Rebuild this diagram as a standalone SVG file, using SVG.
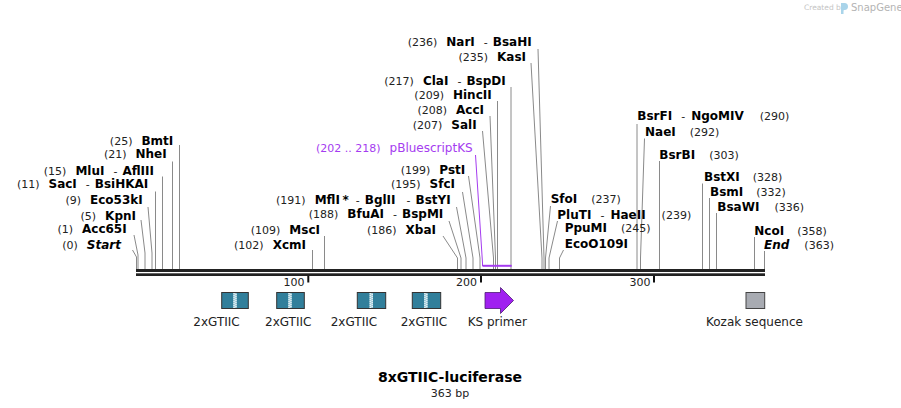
<svg xmlns="http://www.w3.org/2000/svg" width="901" height="408" viewBox="0 0 901 408">
<style>
text{font-family:"DejaVu Sans",Verdana,sans-serif}
.n{font-size:11px;font-weight:normal;font-style:normal;fill:#222}
.b{font-size:12px;font-weight:bold;fill:#000}
.it{font-size:12px;font-weight:bold;font-style:italic;fill:#000}
.e{text-anchor:end}
.c{stroke:#8a8a8a;stroke-width:1;fill:none}
.p{stroke:#a53cf0;stroke-width:1;fill:none}
.pt{fill:#a53cf0;font-size:12px}
.f{font-size:12px;fill:#222}
.box{fill:#317f9b;stroke:#333;stroke-width:1}
.dot{stroke:#fff;stroke-width:1;stroke-dasharray:1 1}
.tick{stroke:#111;stroke-width:2}
</style>
<rect width="901" height="408" fill="#fff"/>

<g id="watermark">
<text x="804" y="10" style="font-size:7.5px;fill:#c4c4c4">Created by</text>
<path d="M841,3 h3.5 a3,3 0 0 1 0,7 h-1 v4 h-2.5 z" fill="#a9d4ea"/>
<text x="851" y="11" style="font-size:10px;fill:#b4b4b4">SnapGene</text>
</g>

<g id="backbone">
<rect x="136" y="269" width="629" height="3" fill="#222"/>
<rect x="136" y="273.3" width="629" height="2.7" fill="#222"/>
<line class="tick" x1="308.3" y1="276" x2="308.3" y2="282.5"/>
<line class="tick" x1="481" y1="276" x2="481" y2="282.5"/>
<line class="tick" x1="654" y1="276" x2="654" y2="282.5"/>
<text class="n e" x="304.5" y="285.5">100</text>
<text class="n e" x="477" y="285.5">200</text>
<text class="n e" x="650.5" y="285.5">300</text>
</g>

<g id="connectors">
<polyline class="c" points="132.5,250 136.5,257 136.5,269"/>
<polyline class="c" points="134,235 138,255 138,269"/>
<polyline class="c" points="141,220 145,253 145,269"/>
<polyline class="c" points="148,207 152,253 152,269"/>
<polyline class="c" points="155.5,191.5 155.5,269"/>
<polyline class="c" points="162.5,176.5 162.5,269"/>
<polyline class="c" points="172.5,161.5 172.5,269"/>
<polyline class="c" points="179.5,145 179.5,269"/>
<polyline class="c" points="312.5,250 312.5,269"/>
<polyline class="c" points="324.5,236 324.5,269"/>
<polyline class="c" points="443,236 457.5,258 457.5,269"/>
<polyline class="c" points="449,221 461,258 461,269"/>
<polyline class="c" points="456.5,207 466,258 466,269"/>
<polyline class="c" points="462.5,192 473,258 473,269"/>
<polyline class="c" points="468.5,176 480,258 480,269"/>
<polyline class="c" points="482.5,131 493.5,258 493.5,269"/>
<polyline class="c" points="490,116 495.5,258 495.5,269"/>
<polyline class="c" points="497.5,101 497.5,269"/>
<polyline class="c" points="511,87 511,269"/>
<polyline class="c" points="531,63 542,258 542,269"/>
<polyline class="c" points="538,49 544,258 544,269"/>
<polyline class="c" points="550.5,206 545.5,258 545.5,269"/>
<polyline class="c" points="557.5,221 549,258 549,269"/>
<polyline class="c" points="563.5,250 559.5,258 559.5,269"/>
<polyline class="c" points="637,124 637,269"/>
<polyline class="c" points="644.5,138.5 640.5,258 640.5,269"/>
<polyline class="c" points="659.5,161 659.5,269"/>
<polyline class="c" points="702.5,183.5 702.5,269"/>
<polyline class="c" points="709.5,198 709.5,269"/>
<polyline class="c" points="716.5,213 716.5,269"/>
<polyline class="c" points="754.5,237 754.5,269"/>
<polyline class="c" points="764.5,251 764.5,269"/>
<polyline class="p" points="475.5,155 482.5,263 482.5,266"/>
<line x1="482.5" y1="265.8" x2="511.7" y2="265.8" stroke="#a53cf0" stroke-width="2"/>
</g>

<g id="site-start"><text class="n e" x="121" y="249">(0)<tspan class="it" dx="9">Start</tspan></text></g>
<g id="site-acc65i"><text class="n e" x="126.7" y="233.3">(1)<tspan class="b" dx="9">Acc65I</tspan></text></g>
<g id="site-kpni"><text class="n e" x="136" y="219.7">(5)<tspan class="b" dx="9">KpnI</tspan></text></g>
<g id="site-eco53ki"><text class="n e" x="142.7" y="204">(9)<tspan class="b" dx="9">Eco53kI</tspan></text></g>
<g id="site-saci"><text class="n e" x="148.3" y="188">(11)<tspan class="b" dx="9">SacI</tspan><tspan dx="9">-</tspan><tspan class="b" dx="5">BsiHKAI</tspan></text></g>
<g id="site-mlui"><text class="n e" x="154" y="175">(15)<tspan class="b" dx="9">MluI</tspan><tspan dx="9">-</tspan><tspan class="b" dx="5">AflIII</tspan></text></g>
<g id="site-nhei"><text class="n e" x="166.7" y="158.3">(21)<tspan class="b" dx="9">NheI</tspan></text></g>
<g id="site-bmti"><text class="n e" x="173.3" y="144.7">(25)<tspan class="b" dx="9">BmtI</tspan></text></g>

<g id="site-xcmi"><text class="n e" x="306" y="249">(102)<tspan class="b" dx="9">XcmI</tspan></text></g>
<g id="site-msci"><text class="n e" x="320" y="234">(109)<tspan class="b" dx="9">MscI</tspan></text></g>
<g id="site-xbai"><text class="n e" x="436" y="234">(186)<tspan class="b" dx="9">XbaI</tspan></text></g>
<g id="site-bfuai"><text class="n e" x="443.3" y="218.3">(188)<tspan class="b" dx="9">BfuAI</tspan><tspan dx="9">-</tspan><tspan class="b" dx="5">BspMI</tspan></text></g>
<g id="site-mfli"><text class="n e" x="450.7" y="204">(191)<tspan class="b" dx="9">MflI</tspan><tspan class="b" dx="2.5">*</tspan><tspan dx="7">-</tspan><tspan class="b" dx="5">BglII</tspan><tspan dx="11">-</tspan><tspan class="b" dx="5">BstYI</tspan></text></g>
<g id="site-sfci"><text class="n e" x="455" y="188.3">(195)<tspan class="b" dx="9">SfcI</tspan></text></g>
<g id="site-psti"><text class="n e" x="465.3" y="174">(199)<tspan class="b" dx="9">PstI</tspan></text></g>
<g id="feat-pbluescriptks-label"><text class="pt e" x="472.7" y="151.5"><tspan style="font-size:11px">(202 .. 218)</tspan><tspan dx="9">pBluescriptKS</tspan></text></g>
<g id="site-sali"><text class="n e" x="476.7" y="129">(207)<tspan class="b" dx="9">SalI</tspan></text></g>
<g id="site-acci"><text class="n e" x="484" y="114">(208)<tspan class="b" dx="9">AccI</tspan></text></g>
<g id="site-hincii"><text class="n e" x="491.7" y="99">(209)<tspan class="b" dx="9">HincII</tspan></text></g>
<g id="site-clai"><text class="n e" x="505.7" y="84.7">(217)<tspan class="b" dx="9">ClaI</tspan><tspan dx="9">-</tspan><tspan class="b" dx="5">BspDI</tspan></text></g>
<g id="site-kasi"><text class="n e" x="526" y="60.7">(235)<tspan class="b" dx="9">KasI</tspan></text></g>
<g id="site-nari"><text class="n e" x="531.7" y="46.3">(236)<tspan class="b" dx="9">NarI</tspan><tspan dx="9">-</tspan><tspan class="b" dx="5">BsaHI</tspan></text></g>

<g id="site-sfoi"><text class="b" x="550.7" y="203.3">SfoI<tspan class="n" dx="14">(237)</tspan></text></g>
<g id="site-pluti"><text class="b" x="557.3" y="219">PluTI<tspan class="n" dx="9">-</tspan><tspan class="b" dx="6">HaeII</tspan><tspan class="n" dx="16">(239)</tspan></text></g>
<g id="site-ppumi"><text class="b" x="564.7" y="232.3">PpuMI<tspan class="n" dx="14">(245)</tspan></text></g>
<g id="site-eco0109i"><text class="b" x="564.7" y="248.3">EcoO109I</text></g>
<g id="site-bsrfi"><text class="b" x="637.3" y="120">BsrFI<tspan class="n" dx="9">-</tspan><tspan class="b" dx="6">NgoMIV</tspan><tspan class="n" dx="16">(290)</tspan></text></g>
<g id="site-naei"><text class="b" x="645" y="136.3">NaeI<tspan class="n" dx="14">(292)</tspan></text></g>
<g id="site-bsrbi"><text class="b" x="659.3" y="159">BsrBI<tspan class="n" dx="14">(303)</tspan></text></g>
<g id="site-bstxi"><text class="b" x="704" y="180.7">BstXI<tspan class="n" dx="13">(328)</tspan></text></g>
<g id="site-bsmi"><text class="b" x="710" y="195.7">BsmI<tspan class="n" dx="13">(332)</tspan></text></g>
<g id="site-bsawi"><text class="b" x="717.3" y="210.7">BsaWI<tspan class="n" dx="15">(336)</tspan></text></g>
<g id="site-ncoi"><text class="b" x="754.3" y="234.7">NcoI<tspan class="n" dx="13">(358)</tspan></text></g>
<g id="site-end"><text class="it" x="764" y="249">End<tspan class="n" dx="15">(363)</tspan></text></g>

<g id="feat-gtiic-1">
<rect class="box" x="221.7" y="292.5" width="26.6" height="16"/>
<rect x="233.3" y="293" width="3.4" height="15" fill="#a9cfdc"/>
<line class="dot" x1="234" y1="293" x2="234" y2="308"/><line class="dot" x1="236" y1="294" x2="236" y2="308"/>
<text class="f" x="193.3" y="326">2xGTIIC</text>
</g>
<g id="feat-gtiic-2">
<rect class="box" x="276.7" y="292.5" width="27.6" height="16"/>
<rect x="288.3" y="293" width="3.4" height="15" fill="#a9cfdc"/>
<line class="dot" x1="289" y1="293" x2="289" y2="308"/><line class="dot" x1="291" y1="294" x2="291" y2="308"/>
<text class="f" x="265" y="326">2xGTIIC</text>
</g>
<g id="feat-gtiic-3">
<rect class="box" x="357.3" y="292.5" width="28.4" height="16"/>
<rect x="369.5" y="293" width="3.4" height="15" fill="#a9cfdc"/>
<line class="dot" x1="370.2" y1="293" x2="370.2" y2="308"/><line class="dot" x1="372.2" y1="294" x2="372.2" y2="308"/>
<text class="f" x="330.7" y="326">2xGTIIC</text>
</g>
<g id="feat-gtiic-4">
<rect class="box" x="412.3" y="292.5" width="28.4" height="16"/>
<rect x="424.2" y="293" width="3.4" height="15" fill="#a9cfdc"/>
<line class="dot" x1="424.9" y1="293" x2="424.9" y2="308"/><line class="dot" x1="426.9" y1="294" x2="426.9" y2="308"/>
<text class="f" x="400.7" y="326">2xGTIIC</text>
</g>
<g id="feat-ks-primer">
<polygon points="485,292.5 500.5,292.5 500.5,287.5 513.5,300.5 500.5,313.5 500.5,308.5 485,308.5" fill="#a020f0" stroke="#4d1a73" stroke-width="0.8"/>
<text class="f" x="467.7" y="326">KS primer</text>
</g>
<g id="feat-kozak">
<rect x="746" y="292.5" width="18.7" height="16" fill="#a8abb2" stroke="#444" stroke-width="1"/>
<text class="f" x="706" y="326">Kozak sequence</text>
</g>

<g id="title">
<text x="450" y="382" text-anchor="middle" style="font-size:14px;font-weight:bold;fill:#000">8xGTIIC-luciferase</text>
<text x="450" y="396.5" text-anchor="middle" class="n">363 bp</text>
</g>
</svg>
